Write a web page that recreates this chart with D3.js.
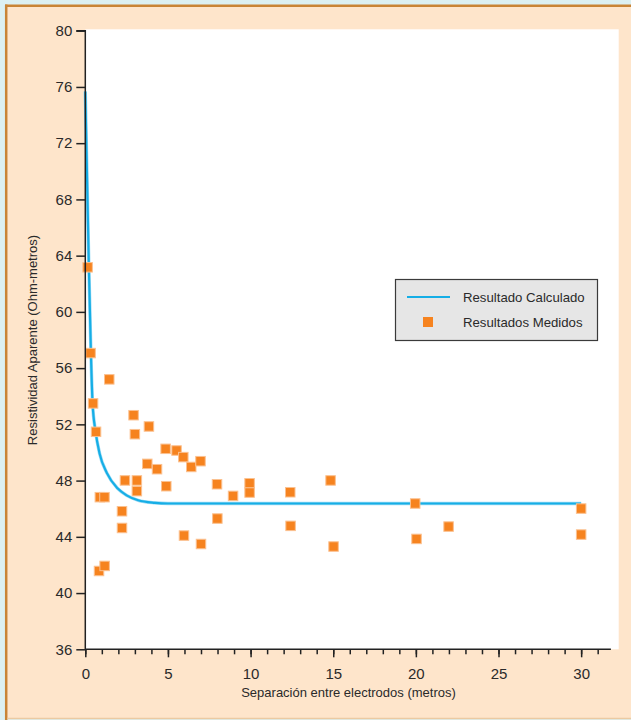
<!DOCTYPE html>
<html>
<head>
<meta charset="utf-8">
<script src="https://cdn.jsdelivr.net/npm/d3@7"></script>
<style>
  html, body { margin: 0; padding: 0; background: #dcf0f2; }
  svg { display: block; }
  text { font-family: "Liberation Sans", Arial, sans-serif; }
</style>
</head>
<body>
<svg id="chart" width="631" height="720"></svg>
<script>
// Measured apparent resistivity (separation in metres, resistivity in ohm-metres)
const medidosX = [0.14, 0.32, 0.47, 0.65, 0.88, 1.16, 0.83, 1.17, 1.45, 2.22, 2.22, 2.40,
  2.92, 3.00, 3.12, 3.12, 3.75, 3.85, 4.34, 4.86, 4.90, 5.52, 5.93, 5.97, 6.41, 6.97,
  7.00, 7.97, 7.99, 8.94, 9.94, 9.94, 12.40, 12.42, 14.84, 15.02, 19.96, 20.04, 21.98,
  30.00, 30.00];
const medidosY = [63.17, 57.07, 53.49, 51.47, 46.82, 46.82, 41.57, 41.93, 55.20, 45.82, 44.63, 48.01,
  52.65, 51.30, 48.01, 47.25, 49.19, 51.85, 48.81, 50.26, 47.60, 50.14, 49.67, 44.09, 48.97, 49.38,
  43.49, 47.74, 45.30, 46.91, 47.81, 47.15, 47.17, 44.78, 48.01, 43.31, 46.37, 43.85, 44.73,
  46.01, 44.16];

// Calculated model curve, sampled along the separation axis
const calculadoX = [0.00, 0.11, 0.22, 0.34, 0.44, 0.62, 0.87, 1.30, 1.95, 2.50, 3.20, 4.20, 5.00, 30.00];
const calculadoY = [75.67, 69.30, 62.97, 57.05, 53.49, 51.50, 49.90, 48.55, 47.45, 46.95, 46.60, 46.42, 46.37, 46.37];

// Axis ticks
const xTicksMajor = [0, 5, 10, 15, 20, 25, 30];
const xTicksMinor = d3.range(0, 32, 1);
const yTicks = [36, 40, 44, 48, 52, 56, 60, 64, 68, 72, 76, 80];

const legendLabels = ["Resultado Calculado", "Resultados Medidos"];
const xTitle = "Separación entre electrodos (metros)";
const yTitle = "Resistividad Aparente (Ohm-metros)";

const svg = d3.select("#chart");

// Panel: peach background with a brown top/left rule
svg.append("rect").attr("x", 5).attr("y", 5).attr("width", 626).attr("height", 713)
  .attr("fill", "#fee5cb");
svg.append("line").attr("x1", 6.2).attr("x2", 6.2).attr("y1", 4.5).attr("y2", 720)
  .attr("stroke", "#c98436").attr("stroke-width", 2.5);
svg.append("line").attr("x1", 5).attr("x2", 631).attr("y1", 5.7).attr("y2", 5.7)
  .attr("stroke", "#c98436").attr("stroke-width", 2.5);
svg.append("line").attr("x1", 7.5).attr("x2", 631).attr("y1", 718.5).attr("y2", 718.5)
  .attr("stroke", "#ebcaa2").attr("stroke-width", 1.5);

const x = d3.scaleLinear().domain([0, 31.8]).range([85.3, 610.9]);
const y = d3.scaleLinear().domain([36, 80]).range([649.3, 30.7]);

// White plotting area
svg.append("rect")
  .attr("x", x(0)).attr("y", y(80) - 1.4)
  .attr("width", 618.7 - x(0)).attr("height", y(36) - y(80) + 1.4)
  .attr("fill", "#ffffff");

// Calculated curve
const line = d3.line()
  .x((d, i) => x(calculadoX[i]))
  .y((d, i) => y(calculadoY[i]))
  .curve(d3.curveMonotoneX);
svg.append("path")
  .datum(calculadoX)
  .attr("d", line)
  .attr("fill", "none")
  .attr("stroke", "#9fdcf5")
  .attr("stroke-width", 3.4);
svg.append("path")
  .datum(calculadoX)
  .attr("d", line)
  .attr("fill", "none")
  .attr("stroke", "#16aee6")
  .attr("stroke-width", 2.2);

// Measured points
const sq = 9.5;
svg.append("g").selectAll("rect")
  .data(medidosX)
  .join("rect")
  .attr("x", (d) => x(d) - sq / 2)
  .attr("y", (d, i) => y(medidosY[i]) - sq / 2)
  .attr("width", sq).attr("height", sq)
  .attr("fill", "#f6831f")
  .attr("stroke", "#fbc190")
  .attr("stroke-width", 1);

// Y axis
const yAxis = d3.axisLeft(y).tickValues(yTicks).tickSize(9).tickPadding(4)
  .tickFormat(d3.format("d"));
const gy = svg.append("g").attr("transform", `translate(${x(0)},0)`).call(yAxis);
gy.select(".domain").attr("stroke", "#222").attr("stroke-width", 1.5)
  .attr("d", `M-9,${y(80)}H0V${y(36)}`);
gy.selectAll(".tick line").attr("stroke", "#222").attr("stroke-width", 1.5);
gy.selectAll(".tick text").attr("fill", "#2a2a2a").style("font-size", "15px")
  .style("font-family", "'Liberation Sans', Arial, sans-serif");

// X axis: minor ticks every metre, labelled every 5
const xMinor = d3.axisBottom(x).tickValues(xTicksMinor).tickSize(5).tickFormat("");
const gxm = svg.append("g").attr("transform", `translate(0,${y(36)})`).call(xMinor);
gxm.select(".domain").attr("stroke", "#222").attr("stroke-width", 1.5)
  .attr("d", `M${x(0)},0H${x(31.8)}`);
gxm.selectAll(".tick line").attr("stroke", "#222").attr("stroke-width", 1.5);

const xAxis = d3.axisBottom(x).tickValues(xTicksMajor).tickSize(8).tickPadding(11)
  .tickFormat(d3.format("d"));
const gx = svg.append("g").attr("transform", `translate(0,${y(36)})`).call(xAxis);
gx.select(".domain").remove();
gx.selectAll(".tick line").attr("stroke", "#222").attr("stroke-width", 1.5);
gx.selectAll(".tick text").attr("fill", "#2a2a2a").style("font-size", "15px")
  .style("font-family", "'Liberation Sans', Arial, sans-serif");

// Axis titles
svg.append("text")
  .attr("x", 348.5).attr("y", 697)
  .attr("text-anchor", "middle")
  .attr("fill", "#2a2a2a")
  .style("font-size", "13px")
  .text(xTitle);
svg.append("text")
  .attr("transform", "translate(36.5,340) rotate(-90)")
  .attr("text-anchor", "middle")
  .attr("fill", "#2a2a2a")
  .style("font-size", "13px")
  .text(yTitle);

// Legend
const lg = svg.append("g");
lg.append("rect").attr("x", 395.5).attr("y", 279.5).attr("width", 202).attr("height", 61)
  .attr("fill", "#e6e6e6").attr("stroke", "#3a3a3a").attr("stroke-width", 1.2);
lg.append("line").attr("x1", 407).attr("x2", 450).attr("y1", 297).attr("y2", 297)
  .attr("stroke", "#16aee6").attr("stroke-width", 2.2);
lg.append("rect").attr("x", 423).attr("y", 317).attr("width", 10).attr("height", 10)
  .attr("fill", "#f6831f");
lg.selectAll("text.lab")
  .data(legendLabels)
  .join("text")
  .attr("class", "lab")
  .attr("x", 463)
  .attr("y", (d, i) => 302 + i * 25)
  .attr("fill", "#2a2a2a")
  .style("font-size", "13.2px")
  .text((d) => d);
</script>
</body>
</html>
